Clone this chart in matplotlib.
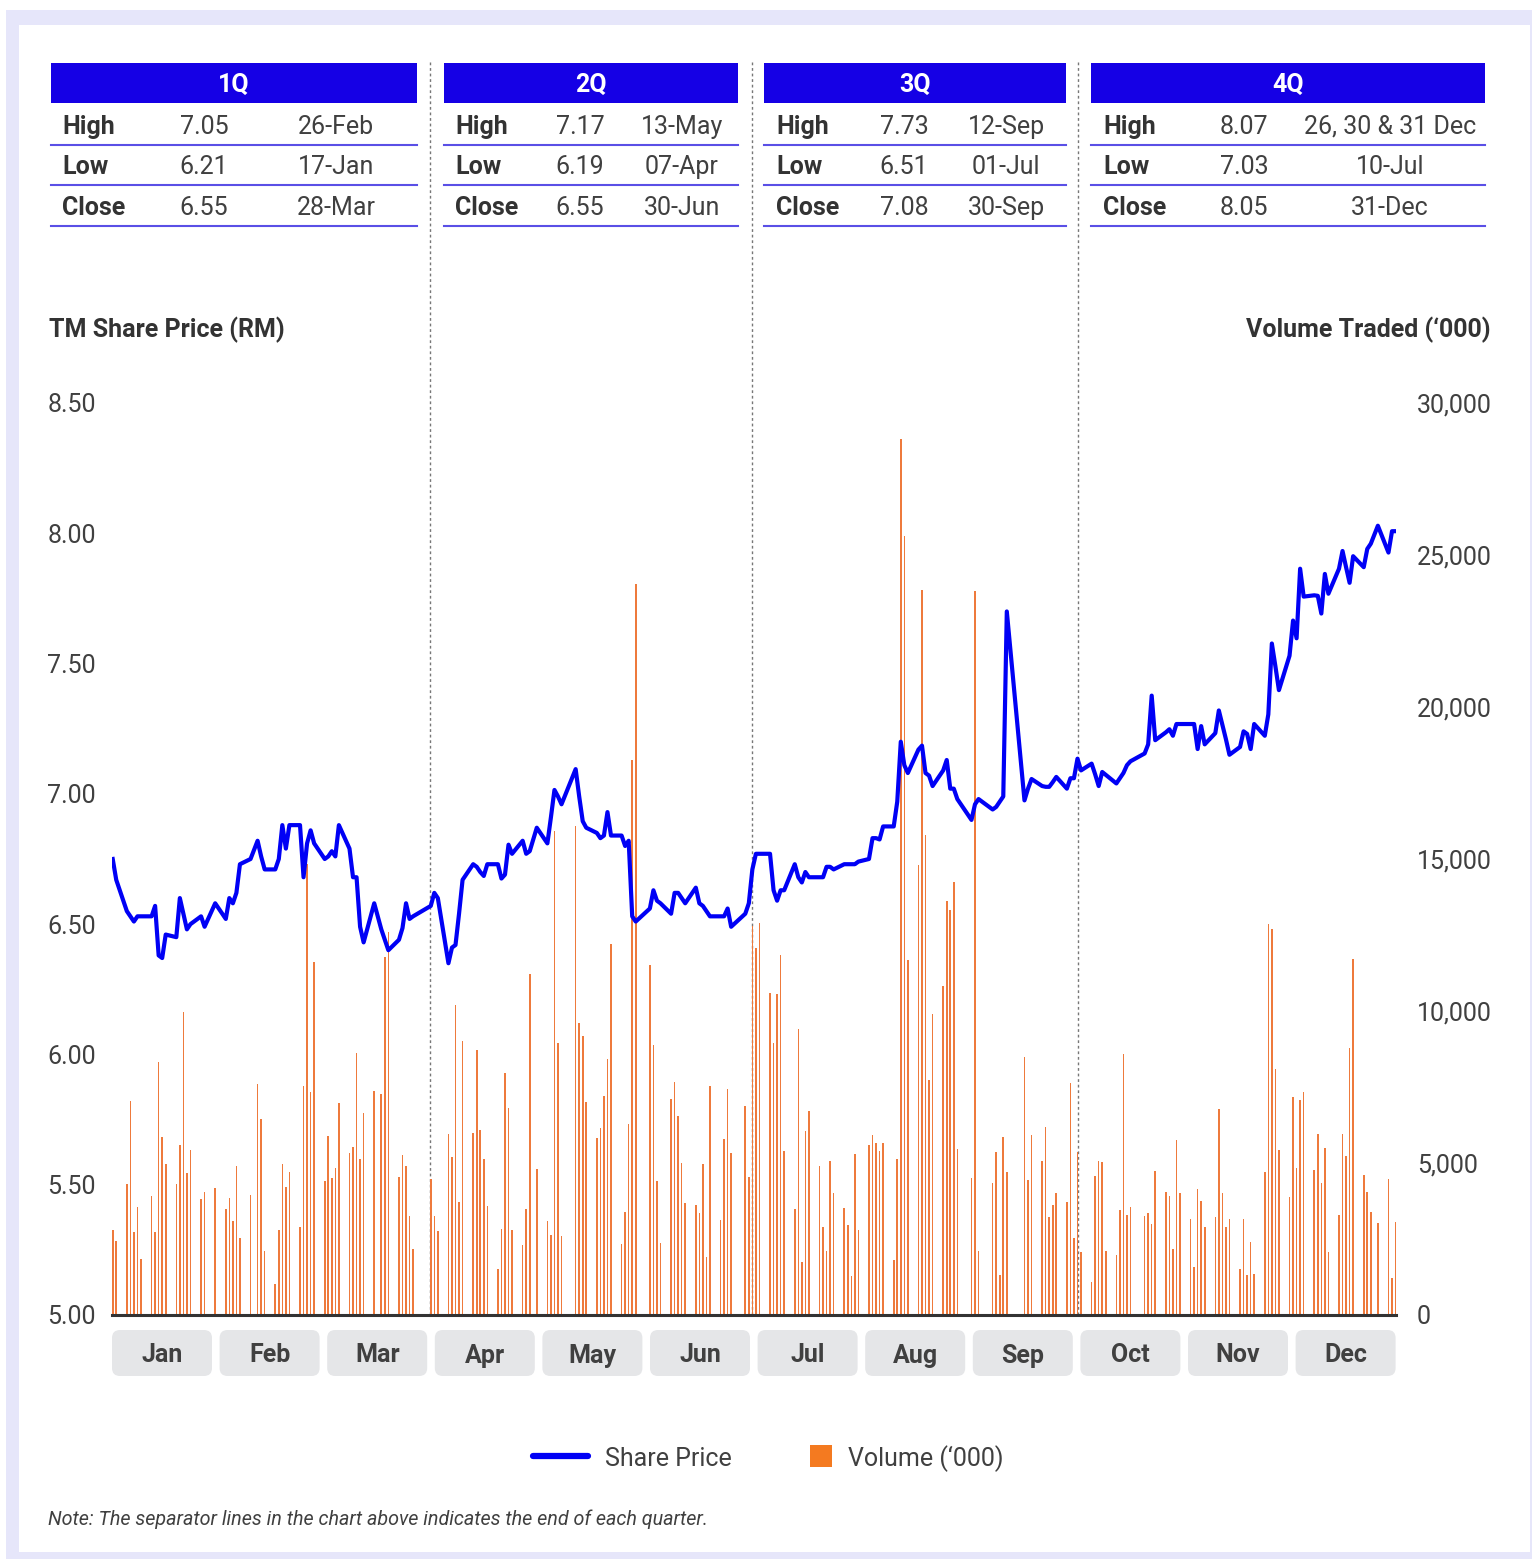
import numpy as np
import pandas as pd
import matplotlib
matplotlib.use("Agg")
import matplotlib.pyplot as plt
from matplotlib.patches import Rectangle, FancyBboxPatch

plt.rcParams['font.family'] = ['Roboto', 'DejaVu Sans']

# Bursa closed days (weekdays) in 2025
holidays = ['2025-01-01', '2025-01-29', '2025-01-30', '2025-02-11', '2025-03-18',
            '2025-03-31', '2025-04-01', '2025-05-01', '2025-05-12', '2025-06-02',
            '2025-06-27', '2025-09-01', '2025-09-05', '2025-09-15', '2025-09-16',
            '2025-10-20', '2025-12-25']

# daily closing price (RM), one list per month
price_jan = [6.75, 6.67, 6.55, 6.53, 6.51, 6.53, 6.53, 6.53, 6.57, 6.38, 6.37, 6.46, 6.45, 6.60,
             6.54, 6.48, 6.50, 6.53, 6.49, 6.58]
price_feb = [6.52, 6.60, 6.58, 6.62, 6.73, 6.75, 6.82, 6.76, 6.71, 6.71, 6.75, 6.88, 6.79, 6.88,
             6.88, 6.68, 6.81, 6.86, 6.81]
price_mar = [6.75, 6.76, 6.78, 6.76, 6.88, 6.79, 6.68, 6.68, 6.49, 6.43, 6.58, 6.48, 6.44, 6.40,
             6.44, 6.485, 6.58, 6.52, 6.53]
price_apr = [6.57, 6.62, 6.60, 6.35, 6.41, 6.42, 6.54, 6.67, 6.73, 6.72, 6.70, 6.685, 6.73, 6.73,
             6.675, 6.69, 6.805, 6.77, 6.82, 6.77, 6.78]
price_may = [6.87, 6.81, 6.91, 7.015, 6.99, 6.96, 7.095, 6.99, 6.895, 6.87, 6.85, 6.83, 6.84, 6.93,
             6.84, 6.84, 6.80, 6.82, 6.53, 6.51]
price_jun = [6.56, 6.63, 6.59, 6.58, 6.54, 6.62, 6.62, 6.60, 6.58, 6.64, 6.58, 6.57, 6.55, 6.53,
             6.53, 6.53, 6.56, 6.49, 6.54]
price_jul = [6.58, 6.71, 6.77, 6.77, 6.77, 6.63, 6.59, 6.63, 6.63, 6.73, 6.68, 6.66, 6.70, 6.68,
             6.68, 6.68, 6.72, 6.72, 6.71, 6.73, 6.73, 6.73, 6.73]
price_aug = [6.74, 6.75, 6.83, 6.83, 6.825, 6.875, 6.875, 6.97, 7.20, 7.11, 7.08, 7.17, 7.185, 7.08,
             7.07, 7.03, 7.09, 7.13, 7.02, 7.02, 6.98]
price_sep = [6.90, 6.96, 6.98, 6.94, 6.95, 6.97, 6.99, 7.70, 6.975, 7.02, 7.057, 7.03, 7.027, 7.027,
             7.045, 7.065, 7.02, 7.06]
price_oct = [7.06, 7.135, 7.09, 7.116, 7.075, 7.03, 7.084, 7.073, 7.04, 7.06, 7.08, 7.11, 7.125, 7.155,
             7.19, 7.377, 7.206, 7.236, 7.248, 7.223, 7.268, 7.268]
price_nov = [7.268, 7.268, 7.172, 7.26, 7.19, 7.233, 7.32, 7.265, 7.21, 7.15, 7.18, 7.24, 7.23, 7.172,
             7.268, 7.223, 7.305, 7.577, 7.49, 7.398]
price_dec = [7.53, 7.665, 7.597, 7.864, 7.757, 7.762, 7.76, 7.692, 7.844, 7.768, 7.864, 7.932, 7.87,
             7.81, 7.912, 7.87, 7.94, 7.96, 8.029, 7.926, 8.008, 8.008]

# daily volume traded ('000)
vol_jan = [2800, 2430, 4320, 7050, 2740, 3560, 1850, 3910, 2740, 8320, 5860, 4970, 4320, 5590,
           9970, 4680, 5430, 3800, 4050, 4180]
vol_feb = [3500, 3850, 3090, 4910, 2540, 3950, 7600, 6450, 2100, 1030, 2800, 4970, 4200, 4700,
           2900, 7530, 14840, 7320, 11600]
vol_mar = [4420, 5890, 4500, 4850, 6970, 5330, 5530, 8620, 5130, 6640, 7370, 7280, 11780, 12600,
           4540, 5260, 4910, 3260, 2180]
vol_apr = [4470, 3270, 2750, 5940, 5200, 10200, 3730, 9000, 5990, 8730, 6100, 5120, 3600, 1520,
           2830, 7960, 6810, 2800, 2290, 3490, 11230]
vol_may = [4800, 3080, 2620, 15930, 8940, 2590, 16090, 9590, 9170, 7010, 5810, 6140, 7200, 8430,
           12210, 2340, 3400, 6270, 18270, 24060]
vol_jun = [11510, 8890, 4420, 2370, 7090, 7660, 6550, 4990, 3680, 3620, 3360, 4960, 1900, 7530,
           3110, 5780, 7450, 5340, 6880]
vol_jul = [4540, 12800, 12070, 12880, 10580, 8940, 10560, 11840, 5410, 3480, 9400, 1740, 6040, 6700,
           4890, 2900, 2090, 5080, 4000, 3510, 2950, 1290, 5310]
vol_aug = [2800, 5600, 5930, 5660, 5410, 5660, 1800, 5120, 28830, 25640, 11680, 14810, 23850, 15800,
           7720, 9910, 10810, 13610, 13320, 14250, 5450]
vol_sep = [4500, 23810, 2090, 4340, 5350, 1310, 5850, 4690, 8500, 4440, 5930, 5080, 6180, 3240,
           3610, 4020, 3730, 7630]
vol_oct = [2540, 5360, 2060, 1090, 4580, 5060, 5020, 2100, 1970, 3470, 8580, 3300, 3560, 3260,
           3350, 3000, 4740, 4050, 3910, 2180, 5760, 4000]
vol_nov = [3170, 1590, 4140, 3740, 2910, 3240, 6770, 4000, 2890, 3170, 1500, 3170, 1300, 2410,
           1360, 4700, 12860, 12690, 8090, 5440]
vol_dec = [3880, 7170, 4830, 7080, 7350, 4760, 5940, 4350, 5500, 2060, 3300, 5970, 5230, 8790,
           11700, 4620, 4050, 3380, 3030, 4490, 1220, 3070]

months = ['Jan', 'Feb', 'Mar', 'Apr', 'May', 'Jun', 'Jul', 'Aug', 'Sep', 'Oct', 'Nov', 'Dec']

# quarterly summary table
quarters = ['1Q', '2Q', '3Q', '4Q']
row_names = ['High', 'Low', 'Close']
q_high = ['7.05', '7.17', '7.73', '8.07']
q_high_date = ['26-Feb', '13-May', '12-Sep', '26, 30 & 31 Dec']
q_low = ['6.21', '6.19', '6.51', '7.03']
q_low_date = ['17-Jan', '07-Apr', '01-Jul', '10-Jul']
q_close = ['6.55', '6.55', '7.08', '8.05']
q_close_date = ['28-Mar', '30-Jun', '30-Sep', '31-Dec']

days = pd.bdate_range('2025-01-01', '2025-12-31')
days = days[~days.isin(pd.to_datetime(holidays))]
price = np.concatenate([price_jan, price_feb, price_mar, price_apr, price_may, price_jun,
                        price_jul, price_aug, price_sep, price_oct, price_nov, price_dec])
volume = np.concatenate([vol_jan, vol_feb, vol_mar, vol_apr, vol_may, vol_jun,
                         vol_jul, vol_aug, vol_sep, vol_oct, vol_nov, vol_dec])
x = days.dayofyear.values

W, H = 1532, 1559
BLUE = '#0000F5'
ORANGE = '#EE7A3C'
TXT = '#404040'
FS = 18

fig = plt.figure(figsize=(W / 100, H / 100), dpi=100)

# full-figure axes in pixel coords for frame, tables, labels
bg = fig.add_axes([0, 0, 1, 1])
bg.set_xlim(0, W)
bg.set_ylim(H, 0)
bg.axis('off')
bg.add_patch(Rectangle((6, 10), W - 6, H - 10, color='#E6E6FA', lw=0))
bg.add_patch(Rectangle((19, 25), 1530 - 19, 1552 - 25, color='white', lw=0))

# quarter tables
blocks = [(51, 417), (444, 738), (764, 1066), (1091, 1485)]
lab_x = [62, 455, 776, 1103]
val_x = [204, 580, 904, 1244]
date_x = [336, 682, 1006, 1390]
rows = list(zip(q_high, q_low, q_close))
dates = list(zip(q_high_date, q_low_date, q_close_date))
for i, (x0, x1) in enumerate(blocks):
    bg.add_patch(Rectangle((x0, 63), x1 - x0, 40, color='#1500E5', lw=0))
    bg.text((x0 + x1) / 2, 85, quarters[i], color='white', fontsize=FS, fontweight='bold',
            ha='center', va='center')
    for j in range(3):
        yc = 126.5 + j * 40.5
        bg.text(lab_x[i], yc, row_names[j], color='#333333', fontsize=FS, fontweight='bold',
                ha='left', va='center')
        bg.text(val_x[i], yc, rows[i][j], color=TXT, fontsize=FS, ha='center', va='center')
        bg.text(date_x[i], yc, dates[i][j], color=TXT, fontsize=FS, ha='center', va='center')
        bg.plot([x0, x1], [144.5 + j * 40.8] * 2, color='#5A4FE6', lw=1.5)

# quarter separators
for sx in [430, 752, 1078]:
    bg.plot([sx, sx], [62, 1315], color='#777777', lw=1, ls=(0, (2, 2)))

# month label boxes
for i, m in enumerate(months):
    bx = 112 + i * 107.6
    bg.add_patch(FancyBboxPatch((bx, 1330), 100, 46, boxstyle='round,pad=0,rounding_size=8',
                                fc='#E5E6E8', ec='none'))
    bg.text(bx + 50, 1355.5, m, color=TXT, fontsize=FS, fontweight='bold', ha='center', va='center')

bg.text(49, 329.5, 'TM Share Price (RM)', color='#333333', fontsize=FS, fontweight='bold',
        ha='left', va='center')
bg.text(1491, 329.5, 'Volume Traded (\u2018000)', color='#333333', fontsize=FS, fontweight='bold',
        ha='right', va='center')

# legend
bg.plot([533, 588], [1456, 1456], color=BLUE, lw=4.5, solid_capstyle='round')
bg.text(605, 1458.5, 'Share Price', color=TXT, fontsize=FS, ha='left', va='center')
bg.add_patch(Rectangle((810, 1445), 22, 22, color='#F47A20', lw=0))
bg.text(848, 1458.5, 'Volume (\u2018000)', color=TXT, fontsize=FS, ha='left', va='center')

bg.text(48, 1519, 'Note: The separator lines in the chart above indicates the end of each quarter.',
        color=TXT, fontsize=14.2, style='italic', ha='left', va='center')

# main chart: volume bars (right axis) + price line (left axis)
ax = fig.add_axes([112 / W, 1 - 1315 / H, 1284 / W, 912 / H])
ax.set_facecolor('none')
ax.bar(x, volume, width=0.45, color=ORANGE, lw=0)
ax.set_xlim(1.8, 365.13)
ax.set_ylim(0, 30000)
ax.set_xticks([])
for s in ['top', 'left', 'right']:
    ax.spines[s].set_visible(False)
ax.spines['bottom'].set_color('#333333')
ax.spines['bottom'].set_linewidth(2.2)

ax2 = ax.twinx()
ax2.plot(x, price, color=BLUE, lw=3.0, solid_joinstyle='round')
ax2.set_ylim(5, 8.5)
for s in ax2.spines.values():
    s.set_visible(False)

# volume ticks on the right, price ticks on the left
ax.yaxis.set_ticks_position('right')
ax.yaxis.set_label_position('right')
ax.set_yticks(np.arange(0, 30001, 5000))
ax.set_yticklabels([f'{v:,}' for v in range(0, 30001, 5000)])
ax.tick_params(axis='y', length=0, pad=15, labelsize=FS, labelcolor=TXT)

ax2.yaxis.set_ticks_position('left')
ax2.yaxis.set_label_position('left')
ax2.set_yticks(np.arange(5, 8.51, 0.5))
ax2.set_yticklabels([f'{v:.2f}' for v in np.arange(5, 8.51, 0.5)])
ax2.tick_params(axis='y', length=0, pad=11.5, labelsize=FS, labelcolor=TXT)

fig.savefig('out.png', dpi=100)
